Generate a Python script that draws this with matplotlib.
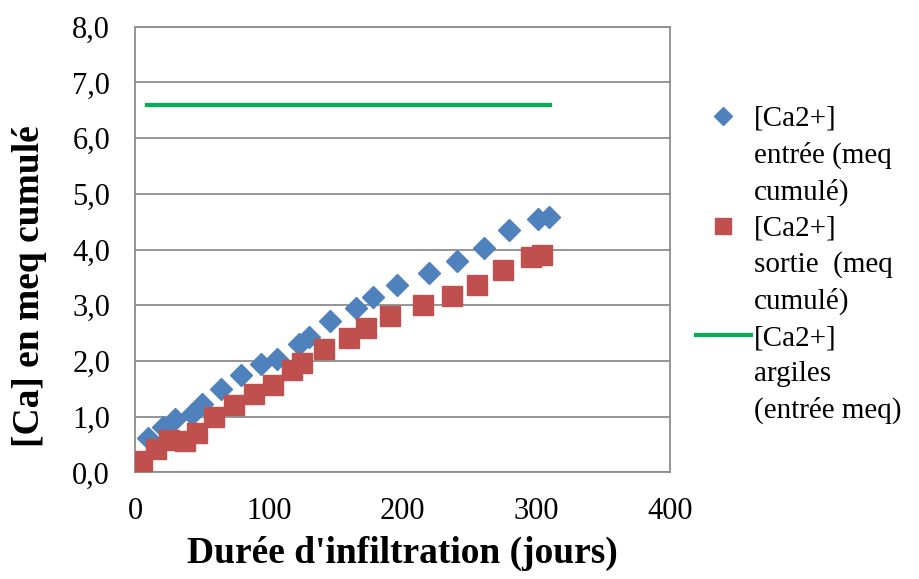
import matplotlib.pyplot as plt
from matplotlib.lines import Line2D

plt.rcParams['font.family'] = ['Liberation Serif', 'DejaVu Serif']

# jours / meq cumulés
x_entree = [10, 21, 30, 42.5, 50, 64, 79, 94, 106, 122.5, 130, 146, 165, 177.6, 196,
            220, 241, 261, 280, 301, 309.6]
y_entree = [0.62, 0.81, 0.96, 1.05, 1.23, 1.49, 1.74, 1.95, 2.04, 2.30, 2.43, 2.72,
            2.96, 3.14, 3.36, 3.58, 3.80, 4.03, 4.35, 4.55, 4.59]
x_sortie = [5, 16, 25, 37.5, 46, 59, 74, 89, 103, 117.5, 125, 141, 160, 172.6, 191,
            215, 237, 256, 275, 296, 304.5]
y_sortie = [0.21, 0.42, 0.58, 0.56, 0.71, 0.99, 1.21, 1.41, 1.57, 1.83, 1.96, 2.21,
            2.41, 2.60, 2.81, 3.00, 3.16, 3.37, 3.64, 3.86, 3.91]
x_argiles = [9, 310]
y_argiles = [6.6, 6.6]

fig = plt.figure(figsize=(9.19, 5.79), dpi=100)
ax = fig.add_axes([0.147, 0.184, 0.582, 0.77])

ax.plot(x_entree, y_entree, 'D', color='#4F81BD', ms=11.5, mec='#4F81BD', zorder=3)
ax.plot(x_sortie, y_sortie, 's', color='#C0504D', ms=14, mec='#C0504D', zorder=3)
ax.plot(x_argiles, y_argiles, '-', color='#00B050', lw=3, zorder=2)

ax.set_xlim(0, 400)
ax.set_ylim(0, 8)
ax.set_xticks([0, 100, 200, 300, 400])
ax.set_yticks(range(9))
ax.set_yticklabels(['%d,0' % v for v in range(9)])
ax.tick_params(length=0, labelsize=22)
ax.tick_params(axis='y', pad=18)
ax.tick_params(axis='x', pad=18)
ax.grid(axis='y', color='#8c8c8c', lw=1.3)
ax.set_axisbelow(True)
for s in ax.spines.values():
    s.set_color('#8c8c8c')
    s.set_linewidth(1.3)

ax.set_xlabel("Durée d'infiltration (jours)", fontsize=27, fontweight='bold', va='center')
ax.set_ylabel('[Ca] en meq cumulé', fontsize=27, fontweight='bold', va='center')
ax.xaxis.set_label_coords(0.5, -0.182)
ax.yaxis.set_label_coords(-0.198, 0.418)

# legende : une ligne par rangée, le symbole sur la premiere ligne
blank = Line2D([], [], linestyle='none')
handles = [Line2D([], [], marker='D', color='#4F81BD', linestyle='none', ms=9), blank, blank,
           Line2D([], [], marker='s', color='#C0504D', linestyle='none', ms=11), blank, blank,
           Line2D([], [], color='#00B050', lw=3), blank, blank]
labels = ['[Ca2+]', 'entrée (meq', 'cumulé)',
          '[Ca2+]', 'sortie  (meq', 'cumulé)',
          '[Ca2+]', 'argiles', '(entrée meq)']
fig.legend(handles, labels, loc='upper left', bbox_to_anchor=(0.757, 0.818),
           frameon=False, fontsize=21, handlelength=1.9, handletextpad=0.1,
           labelspacing=0.33, borderpad=0, borderaxespad=0)

fig.savefig('out.png', dpi=100)
